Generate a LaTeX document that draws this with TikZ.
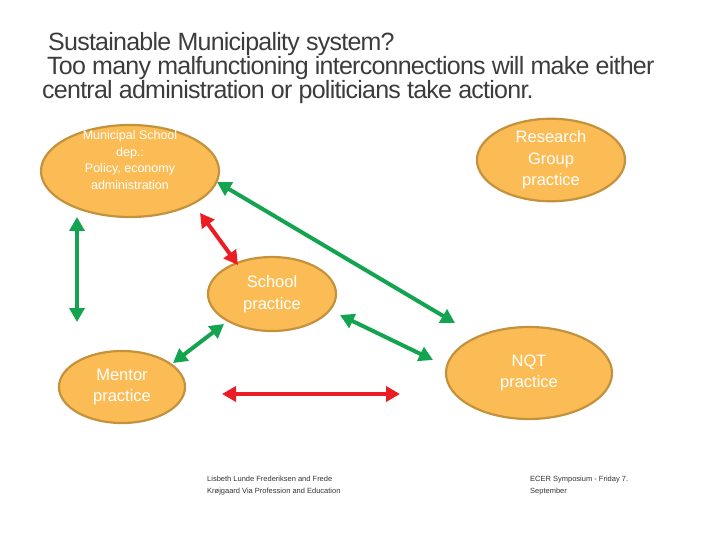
\documentclass[tikz,border=0pt]{standalone}
\usepackage{fontspec}
\setmainfont{Liberation Sans}
\newfontfamily\titlefont[LetterSpace=-3]{Liberation Sans}
\usetikzlibrary{arrows.meta,shapes.geometric}
\definecolor{ellfill}{RGB}{251,188,85}
\definecolor{ellline}{RGB}{196,145,60}
\definecolor{grn}{RGB}{20,164,80}
\definecolor{rd}{RGB}{236,28,36}
\definecolor{ttl}{RGB}{60,60,60}
\begin{document}
\begin{tikzpicture}[x=1pt,y=-1pt,
  ell/.style={draw=ellline,line width=2.2pt,fill=ellfill,shape=ellipse,text=white,align=center,inner sep=0pt},
  big/.style={font=\fontsize{16.5}{21.5}\selectfont},
  small/.style={font=\fontsize{12.5}{16.5}\selectfont},
  garrow/.style={draw=grn,line width=4pt,{Triangle[length=14pt,width=15pt]}-{Triangle[length=14pt,width=15pt]}},
  rarrow/.style={draw=rd,line width=4pt,{Triangle[length=14pt,width=15pt]}-{Triangle[length=14pt,width=15pt]}},
  ttlline/.style={anchor=base west,inner sep=0pt,text=ttl,font=\titlefont\fontsize{25}{24}\selectfont},
  foot/.style={font=\fontsize{7.5}{11.5}\selectfont,text=black!80,align=left,anchor=north west,inner sep=0pt}]
\useasboundingbox (0,0) rectangle (720,540);
% title
\node[ttlline] (t1) at (48,51) {Sustainable Municipality system?};
\node[ttlline] (t2) at (47,75) {Too many malfunctioning interconnections will make either};
\node[ttlline] (t3) at (42,99) {central administration or politicians take actionr.};
% ellipses
\node[ell,minimum width=178,minimum height=92,
  label={[text=white,align=center,small,yshift=11pt]center:Municipal School\\dep.:\\Policy, economy\\administration}] (mun) at (130,171) {};
\node[ell,big,minimum width=148,minimum height=74] (res) at (551,160) {Research\\Group\\practice};
\node[ell,big,minimum width=128,minimum height=74] (sch) at (272,294) {School\\practice};
\node[ell,big,minimum width=126,minimum height=72] (men) at (122,387) {Mentor\\practice};
\node[ell,big,minimum width=166,minimum height=92] (nqt) at (529,373) {NQT\\practice};
% arrow ends
\coordinate (a1s) at (77,217);
\coordinate (a1e) at (77,322);
\coordinate (a2s) at (200,213);
\coordinate (a2e) at (238,265);
\coordinate (a3s) at (217,182);
\coordinate (a3e) at (455,323);
\coordinate (a4s) at (340,315);
\coordinate (a4e) at (433,360);
\coordinate (a5s) at (173,363);
\coordinate (a5e) at (224,324);
\coordinate (a6s) at (222,394);
\coordinate (a6e) at (400,394);
\draw[garrow] (a1s) -- (a1e);
\draw[rarrow] (a2s) -- (a2e);
\draw[garrow] (a3s) -- (a3e);
\draw[garrow] (a4s) -- (a4e);
\draw[garrow] (a5s) -- (a5e);
\draw[rarrow] (a6s) -- (a6e);
% footer
\node[foot] (f1) at (207,476) {Lisbeth Lunde Frederiksen and Frede\\Krøjgaard Via Profession and Education};
\node[foot] (f2) at (530,476) {ECER Symposium - Friday 7.\\September};
\end{tikzpicture}
\end{document}
